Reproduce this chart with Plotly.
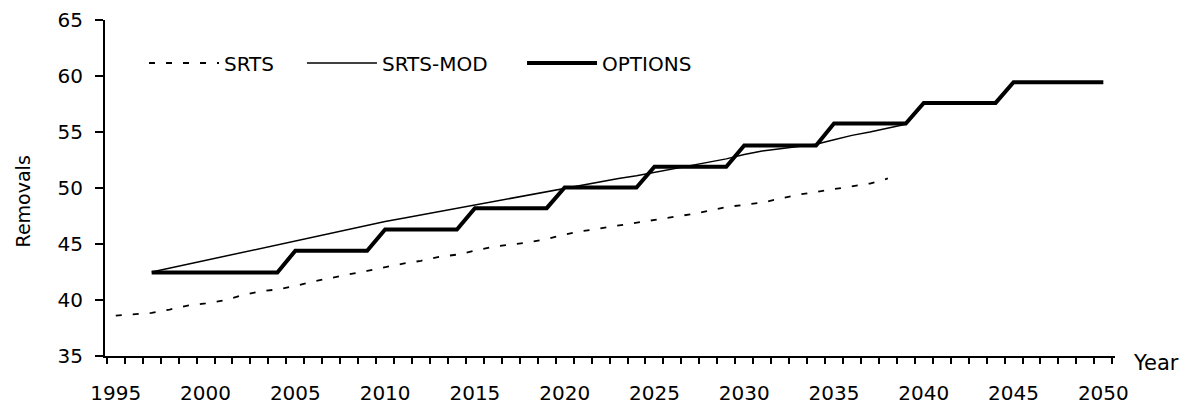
import plotly.graph_objects as go

# ---- data ----
srts_years = list(range(1995, 2039))
srts_vals = [38.6, 38.7, 38.85, 39.15, 39.5, 39.7, 39.95, 40.4, 40.75, 40.95,
             41.25, 41.65, 42.0, 42.3, 42.6, 42.95, 43.25, 43.5, 43.85, 44.05,
             44.4, 44.75, 44.95, 45.15, 45.45, 45.85, 46.15, 46.4, 46.6, 46.85,
             47.1, 47.35, 47.65, 47.95, 48.3, 48.5, 48.7, 49.05, 49.4, 49.65,
             49.9, 50.1, 50.4, 50.85]

mod_years = list(range(1997, 2040))
mod_vals = [42.5, 42.85, 43.2, 43.55, 43.9, 44.25, 44.6, 44.95, 45.3, 45.65,
            46.0, 46.35, 46.7, 47.0, 47.3, 47.6, 47.9, 48.2, 48.5, 48.8,
            49.1, 49.4, 49.7, 50.0, 50.3, 50.55, 50.85, 51.1, 51.4, 51.7,
            52.0, 52.3, 52.6, 53.0, 53.3, 53.5, 53.7, 53.9, 54.3, 54.7,
            55.0, 55.35, 55.7]

opt_years = list(range(1997, 2051))
opt_vals = ([42.45] * 8 + [44.4] * 5 + [46.3] * 5 + [48.2] * 5 + [50.05] * 5 +
            [51.9] * 5 + [53.8] * 5 + [55.75] * 5 + [57.6] * 5 + [59.45] * 6)

x_tick_vals = list(range(1995, 2051, 5))
x_tick_text = [str(v) for v in x_tick_vals]
y_tick_vals = [35, 40, 45, 50, 55, 60, 65]

FONT = "DejaVu Sans"

fig = go.Figure()
fig.add_trace(go.Scatter(x=srts_years, y=srts_vals, mode="lines", name="SRTS",
                         legend="legend",
                         line=dict(color="black", width=1.8, dash="6px,11px")))
fig.add_trace(go.Scatter(x=mod_years, y=mod_vals, mode="lines", name="SRTS-MOD",
                         legend="legend2",
                         line=dict(color="black", width=1.5)))
fig.add_trace(go.Scatter(x=opt_years, y=opt_vals, mode="lines", name="OPTIONS",
                         legend="legend3",
                         line=dict(color="black", width=4)))

leg_common = dict(orientation="h", y=0.872, xanchor="left", yanchor="middle",
                  bgcolor="rgba(0,0,0,0)", font=dict(size=20, family=FONT),
                  itemwidth=70)

fig.update_layout(
    width=1191, height=400,
    margin=dict(l=97, r=84, t=12, b=52),
    paper_bgcolor="white", plot_bgcolor="white",
    font=dict(family=FONT, size=20, color="black"),
    showlegend=True,
    legend=dict(x=0.0386, **leg_common),
    legend2=dict(x=0.195, **leg_common),
    legend3=dict(x=0.4129, **leg_common),
    xaxis=dict(range=[1994.4, 2050.65], showgrid=False, zeroline=False,
               automargin=False,
               showline=True, linecolor="black", linewidth=2,
               tickmode="array", tickvals=x_tick_vals, ticktext=x_tick_text,
               ticks="", ticklabelstandoff=18,
               minor=dict(ticks="outside", tick0=1994.5, dtick=1, ticklen=6,
                          tickwidth=2, tickcolor="black", showgrid=False)),
    yaxis=dict(range=[35, 65], showgrid=False, zeroline=False,
               automargin=False,
               showline=True, linecolor="black", linewidth=2,
               tickmode="array", tickvals=y_tick_vals,
               ticks="outside", ticklen=8, tickwidth=2, tickcolor="black",
               ticklabelstandoff=8),
)

fig.add_annotation(text="Removals", xref="paper", yref="paper", x=0, y=0.46,
                   xanchor="center", yanchor="middle", xshift=-82, textangle=-90,
                   showarrow=False, font=dict(size=19))
fig.add_annotation(text="Year", xref="paper", yref="paper", x=1, y=0,
                   xanchor="left", yanchor="middle", xshift=16, yshift=-7,
                   showarrow=False, font=dict(size=21))

fig.write_html("out.html")
